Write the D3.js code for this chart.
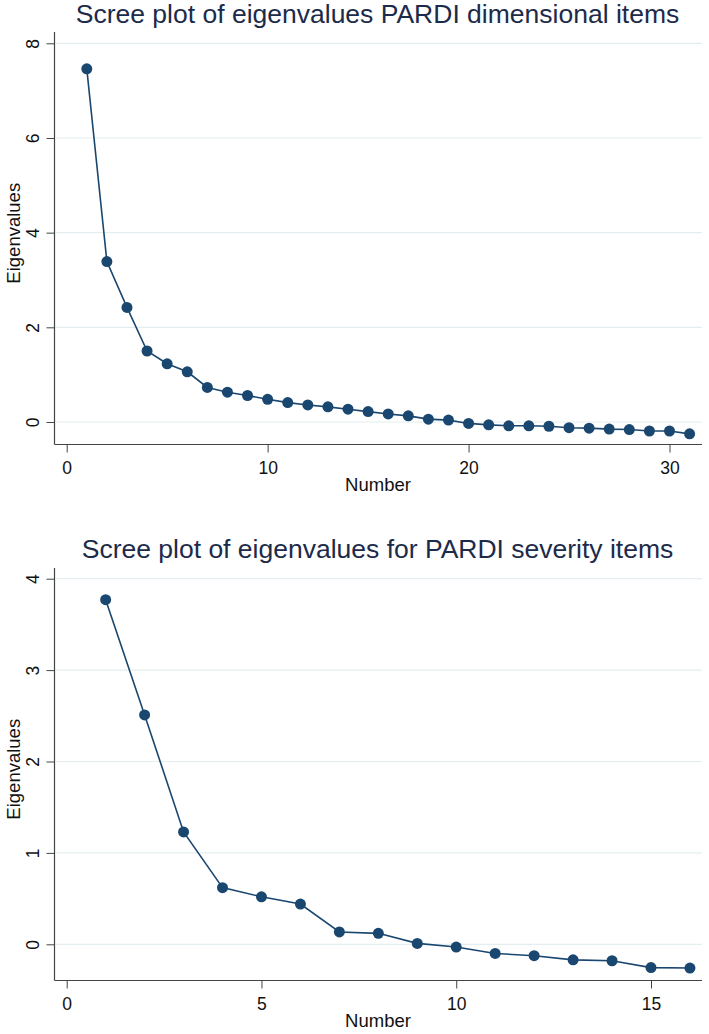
<!DOCTYPE html>
<html>
<head>
<meta charset="utf-8">
<script src="https://cdn.jsdelivr.net/npm/d3@7"></script>
<style>
  body { margin: 0; background: #fff; }
  svg { display: block; font-family: "Liberation Sans", Arial, sans-serif; }
</style>
</head>
<body>
<div id="chart"></div>
<script>
// eigenvalues
const dimNumbers = d3.range(1, 32);
const dimEigen = [7.46, 3.39, 2.42, 1.50, 1.23, 1.06, 0.73, 0.63, 0.56, 0.48,
  0.41, 0.36, 0.32, 0.27, 0.22, 0.17, 0.13, 0.06, 0.04, -0.03,
  -0.06, -0.08, -0.08, -0.09, -0.12, -0.13, -0.15, -0.16, -0.19, -0.19, -0.25];
const dimXTicks = [0, 10, 20, 30];
const dimYTicks = [0, 2, 4, 6, 8];

const sevNumbers = d3.range(1, 17);
const sevEigen = [3.77, 2.51, 1.23, 0.62, 0.52, 0.44, 0.135, 0.12, 0.01, -0.03,
  -0.10, -0.125, -0.17, -0.18, -0.255, -0.26];
const sevXTicks = [0, 5, 10, 15];
const sevYTicks = [0, 1, 2, 3, 4];

const width = 709, height = 1034;
const navy = "#1a476f";

const svg = d3.select("#chart").append("svg")
    .attr("width", width)
    .attr("height", height);

function drawPanel(opt) {
    const g = svg.append("g");
    const x = d3.scaleLinear().domain(opt.xDom).range(opt.xRange);
    const y = d3.scaleLinear().domain(opt.yDom).range(opt.yRange);
    const left = 54.5, right = 702;

    // title
    g.append("text")
        .attr("x", opt.titleX)
        .attr("y", opt.titleY)
        .attr("text-anchor", "middle")
        .attr("font-size", 26.5)
        .attr("fill", "#1c2b4a")
        .text(opt.title);

    // grid
    g.selectAll(".grid")
        .data(opt.yTicks)
        .join("line")
        .attr("x1", left + 1).attr("x2", right)
        .attr("y1", d => y(d)).attr("y2", d => y(d))
        .attr("stroke", "#e4eef0")
        .attr("stroke-width", 1.2);

    // y axis
    const yAxis = g.append("g")
        .attr("transform", `translate(${left},0)`)
        .call(d3.axisLeft(y).tickValues(opt.yTicks).tickSize(8).tickSizeOuter(0).tickFormat(d3.format("d")));
    yAxis.select(".domain").attr("d", `M0,${opt.axisTop}V${opt.axisBottom}`);
    yAxis.selectAll(".tick line").attr("stroke", "#444");
    yAxis.selectAll(".tick text")
        .attr("x", null).attr("dy", null)
        .attr("transform", "translate(-21.5,0) rotate(-90)")
        .attr("text-anchor", "middle")
        .attr("dominant-baseline", "central")
        .attr("font-size", 17.5)
        .attr("fill", "#111");

    // x axis
    const xAxis = g.append("g")
        .attr("transform", `translate(0,${opt.axisBottom})`)
        .call(d3.axisBottom(x).tickValues(opt.xTicks).tickSize(8).tickSizeOuter(0));
    xAxis.select(".domain").attr("d", `M${left},0H${right}`);
    xAxis.selectAll(".tick line").attr("stroke", "#444");
    xAxis.selectAll(".tick text")
        .attr("y", 29).attr("dy", null)
        .attr("font-size", 17.5)
        .attr("fill", "#111");
    g.selectAll(".domain").attr("stroke", "#444").attr("stroke-width", 1.2);

    // axis titles
    g.append("text")
        .attr("transform", `translate(20,${(opt.axisTop + opt.axisBottom) / 2 - 5}) rotate(-90)`)
        .attr("text-anchor", "middle")
        .attr("font-size", 18.5)
        .attr("fill", "#111")
        .text("Eigenvalues");
    g.append("text")
        .attr("x", 378)
        .attr("y", opt.axisBottom + 46)
        .attr("text-anchor", "middle")
        .attr("font-size", 18.5)
        .attr("fill", "#111")
        .text("Number");

    const pts = opt.xs.map((n, i) => [n, opt.ys[i]]);
    g.append("path")
        .datum(pts)
        .attr("fill", "none")
        .attr("stroke", navy)
        .attr("stroke-width", 1.6)
        .attr("d", d3.line().x(d => x(d[0])).y(d => y(d[1])));
    g.selectAll(".pt")
        .data(pts)
        .join("circle")
        .attr("cx", d => x(d[0]))
        .attr("cy", d => y(d[1]))
        .attr("r", 5.5)
        .attr("fill", navy);
}

drawPanel({
    title: "Scree plot of eigenvalues PARDI dimensional items",
    titleX: 377.5, titleY: 23,
    xs: dimNumbers, ys: dimEigen,
    xDom: [0, 30], xRange: [66.7, 669.5],
    yDom: [0, 8], yRange: [422, 43.3],
    xTicks: dimXTicks, yTicks: dimYTicks,
    axisTop: 32, axisBottom: 444.5
});

drawPanel({
    title: "Scree plot of eigenvalues for PARDI severity items",
    titleX: 377.5, titleY: 558,
    xs: sevNumbers, ys: sevEigen,
    xDom: [0, 15], xRange: [66.7, 651],
    yDom: [0, 4], yRange: [944.3, 578.7],
    xTicks: sevXTicks, yTicks: sevYTicks,
    axisTop: 568, axisBottom: 980.5
});
</script>
</body>
</html>
